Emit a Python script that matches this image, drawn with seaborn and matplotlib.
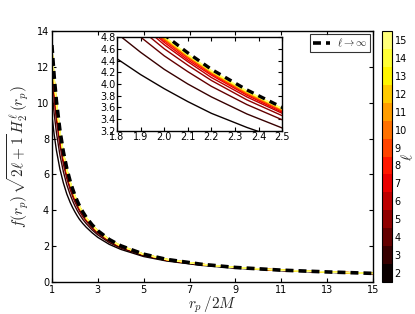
import numpy as np
import pandas as pd
import matplotlib
matplotlib.use("Agg")
import matplotlib as mpl
import matplotlib.pyplot as plt
import seaborn as sns
from matplotlib.colors import ListedColormap, BoundaryNorm

# ---------------- data ----------------
r_values = [1.0, 1.1, 1.2, 1.35, 1.5, 1.65, 1.8, 1.9, 2.0, 2.1, 2.2, 2.35,
            2.5, 2.75, 3.0, 3.5, 4.0, 5.0, 6.0, 7.5, 9.0, 11.0, 13.0, 15.0]

ell_values = [2, 3, 4, 5, 6, 7, 8, 9, 10, 11, 12, 13, 14, 15]

h_inf = [13.22, 11.46, 10.06, 8.46, 7.26, 6.33, 5.60, 5.20, 4.84, 4.53, 4.25, 3.90,
         3.60, 3.19, 2.86, 2.37, 2.02, 1.55, 1.26, 0.99, 0.81, 0.66, 0.56, 0.48]

h_l2 = [9.33, 8.22, 7.33, 6.30, 5.53, 4.91, 4.43, 4.16, 3.92, 3.70, 3.50, 3.26,
        3.05, 2.75, 2.49, 2.10, 1.82, 1.42, 1.17, 0.93, 0.77, 0.63, 0.54, 0.465]
h_l3 = [10.74, 9.39, 8.32, 7.09, 6.16, 5.43, 4.86, 4.54, 4.25, 4.00, 3.78, 3.49,
        3.25, 2.91, 2.63, 2.20, 1.89, 1.47, 1.20, 0.954, 0.785, 0.643, 0.547, 0.470]
h_l4 = [11.72, 10.21, 9.01, 7.63, 6.59, 5.78, 5.15, 4.80, 4.48, 4.21, 3.96, 3.65,
        3.39, 3.02, 2.72, 2.27, 1.94, 1.50, 1.23, 0.968, 0.795, 0.650, 0.552, 0.474]
h_l5 = [12.21, 10.62, 9.35, 7.90, 6.81, 5.96, 5.30, 4.93, 4.60, 4.32, 4.06, 3.73,
        3.46, 3.08, 2.77, 2.30, 1.97, 1.52, 1.24, 0.975, 0.800, 0.653, 0.555, 0.476]
h_l6 = [12.50, 10.86, 9.55, 8.06, 6.94, 6.07, 5.38, 5.01, 4.67, 4.38, 4.11, 3.78,
        3.50, 3.11, 2.79, 2.32, 1.98, 1.53, 1.24, 0.979, 0.803, 0.655, 0.556, 0.477]
h_l7 = [12.68, 11.01, 9.68, 8.16, 7.02, 6.13, 5.44, 5.06, 4.71, 4.41, 4.15, 3.81,
        3.52, 3.13, 2.81, 2.33, 1.99, 1.53, 1.25, 0.982, 0.805, 0.656, 0.557, 0.478]
h_l8 = [12.80, 11.11, 9.77, 8.23, 7.07, 6.18, 5.47, 5.09, 4.74, 4.44, 4.17, 3.83,
        3.54, 3.14, 2.82, 2.34, 2.00, 1.54, 1.25, 0.984, 0.806, 0.657, 0.558, 0.478]
h_l9 = [12.88, 11.18, 9.82, 8.27, 7.11, 6.21, 5.50, 5.11, 4.76, 4.46, 4.19, 3.84,
        3.55, 3.15, 2.83, 2.35, 2.00, 1.54, 1.25, 0.985, 0.807, 0.658, 0.558, 0.479]
h_l10 = [12.94, 11.23, 9.87, 8.31, 7.14, 6.23, 5.52, 5.13, 4.77, 4.47, 4.20, 3.85,
         3.56, 3.16, 2.83, 2.35, 2.01, 1.54, 1.25, 0.986, 0.807, 0.658, 0.559, 0.479]
h_l11 = [12.99, 11.27, 9.90, 8.33, 7.16, 6.25, 5.53, 5.14, 4.79, 4.48, 4.21, 3.86,
         3.57, 3.16, 2.84, 2.35, 2.01, 1.54, 1.25, 0.987, 0.808, 0.658, 0.559, 0.479]
h_l12 = [13.03, 11.30, 9.92, 8.35, 7.17, 6.26, 5.54, 5.15, 4.79, 4.49, 4.21, 3.87,
         3.57, 3.17, 2.84, 2.36, 2.01, 1.54, 1.26, 0.987, 0.808, 0.659, 0.559, 0.479]
h_l13 = [13.05, 11.32, 9.94, 8.37, 7.19, 6.27, 5.55, 5.16, 4.80, 4.49, 4.22, 3.87,
         3.58, 3.17, 2.84, 2.36, 2.01, 1.54, 1.26, 0.988, 0.808, 0.659, 0.559, 0.479]
h_l14 = [13.08, 11.34, 9.96, 8.38, 7.20, 6.28, 5.56, 5.16, 4.81, 4.50, 4.22, 3.88,
         3.58, 3.17, 2.85, 2.36, 2.01, 1.55, 1.26, 0.988, 0.808, 0.659, 0.559, 0.479]
h_l15 = [13.09, 11.35, 9.97, 8.39, 7.20, 6.28, 5.56, 5.17, 4.81, 4.50, 4.23, 3.88,
         3.58, 3.18, 2.85, 2.36, 2.01, 1.55, 1.26, 0.988, 0.809, 0.659, 0.559, 0.480]

curves = [h_l2, h_l3, h_l4, h_l5, h_l6, h_l7, h_l8, h_l9, h_l10, h_l11,
          h_l12, h_l13, h_l14, h_l15]

x_ticks_main = [1, 3, 5, 7, 9, 11, 13, 15]
y_ticks_main = [0, 2, 4, 6, 8, 10, 12, 14]
x_ticks_inset = [1.8, 1.9, 2.0, 2.1, 2.2, 2.3, 2.4, 2.5]
y_ticks_inset = [3.2, 3.4, 3.6, 3.8, 4.0, 4.2, 4.4, 4.6, 4.8]

# ---------------- style ----------------
sns.set_style("ticks")
plt.rcParams.update({
    "font.family": ["DejaVu Sans"],
    "mathtext.fontset": "cm",
    "xtick.direction": "in",
    "ytick.direction": "in",
    "xtick.top": True,
    "ytick.right": True,
    "xtick.major.size": 3,
    "ytick.major.size": 3,
    "axes.edgecolor": "black",
    "axes.linewidth": 1.0,
    "xtick.color": "black",
    "ytick.color": "black",
})

long = pd.DataFrame({
    "r": np.tile(r_values, len(ell_values)),
    "h": np.concatenate([np.asarray(c) for c in curves]),
    "ell": np.repeat(ell_values, len(r_values)),
})
inf_df = pd.DataFrame({"r": r_values, "h": h_inf})

colors = [plt.cm.hot(i / 15.0) for i in range(len(ell_values))]
palette = dict(zip(ell_values, colors))

fig = plt.figure(figsize=(4.15, 3.14), dpi=100)
ax = fig.add_axes([0.125, 0.102, 0.774, 0.799])


def draw(a, lw_line, lw_dash, dashes):
    sns.lineplot(data=long, x="r", y="h", hue="ell", palette=palette,
                 linewidth=lw_line, legend=False, ax=a, sort=False,
                 estimator=None)
    a.plot(inf_df["r"], inf_df["h"], color="black", linewidth=lw_dash,
           linestyle=(0, dashes), label=r"$\ell\to\infty$")


draw(ax, 1.0, 2.6, (2.2, 1.4))
ax.set_xlim(1, 15)
ax.set_ylim(0, 14)
ax.set_xticks(x_ticks_main)
ax.set_yticks(y_ticks_main)
ax.tick_params(labelsize=7, pad=2)
ax.set_xlabel(r"$r_p\,/2M$", fontsize=11, labelpad=0)
ax.set_ylabel(r"$f(r_p)\,\sqrt{2\ell+1}\,H_2^\ell\,(r_p)$", fontsize=11, labelpad=4)
leg = ax.legend(loc="upper right", fontsize=7.5, frameon=True, fancybox=False,
                handlelength=1.6, handletextpad=0.7, borderpad=0.3,
                borderaxespad=0.25)
leg.get_frame().set_edgecolor("black")
leg.get_frame().set_linewidth(0.8)

# inset
axin = fig.add_axes([0.282, 0.583, 0.398, 0.299])
draw(axin, 1.0, 2.4, (2.2, 1.6))
axin.set_xlim(1.8, 2.5)
axin.set_ylim(3.2, 4.8)
axin.set_xticks(x_ticks_inset)
axin.set_yticks(y_ticks_inset)
axin.set_xticklabels([f"{v:.1f}" for v in x_ticks_inset])
axin.set_yticklabels([f"{v:.1f}" for v in y_ticks_inset])
axin.tick_params(labelsize=7, pad=1)
axin.set_xlabel("")
axin.set_ylabel("")

# colorbar
cax = fig.add_axes([0.920, 0.102, 0.024, 0.799])
cmap = ListedColormap(colors)
bounds = np.arange(ell_values[0] - 0.5, ell_values[-1] + 1.0, 1.0)
norm = BoundaryNorm(bounds, cmap.N)
sm = mpl.cm.ScalarMappable(norm=norm, cmap=cmap)
cb = fig.colorbar(sm, cax=cax, ticks=ell_values)
cb.ax.tick_params(labelsize=7, direction="in", length=3, pad=2)
cb.outline.set_linewidth(0.8)
cb.set_label(r"$\ell$", fontsize=11, rotation=90, va="center")
cb.ax.yaxis.set_label_coords(2.55, 0.5)

fig.savefig("out.png", dpi=100, facecolor="white")
